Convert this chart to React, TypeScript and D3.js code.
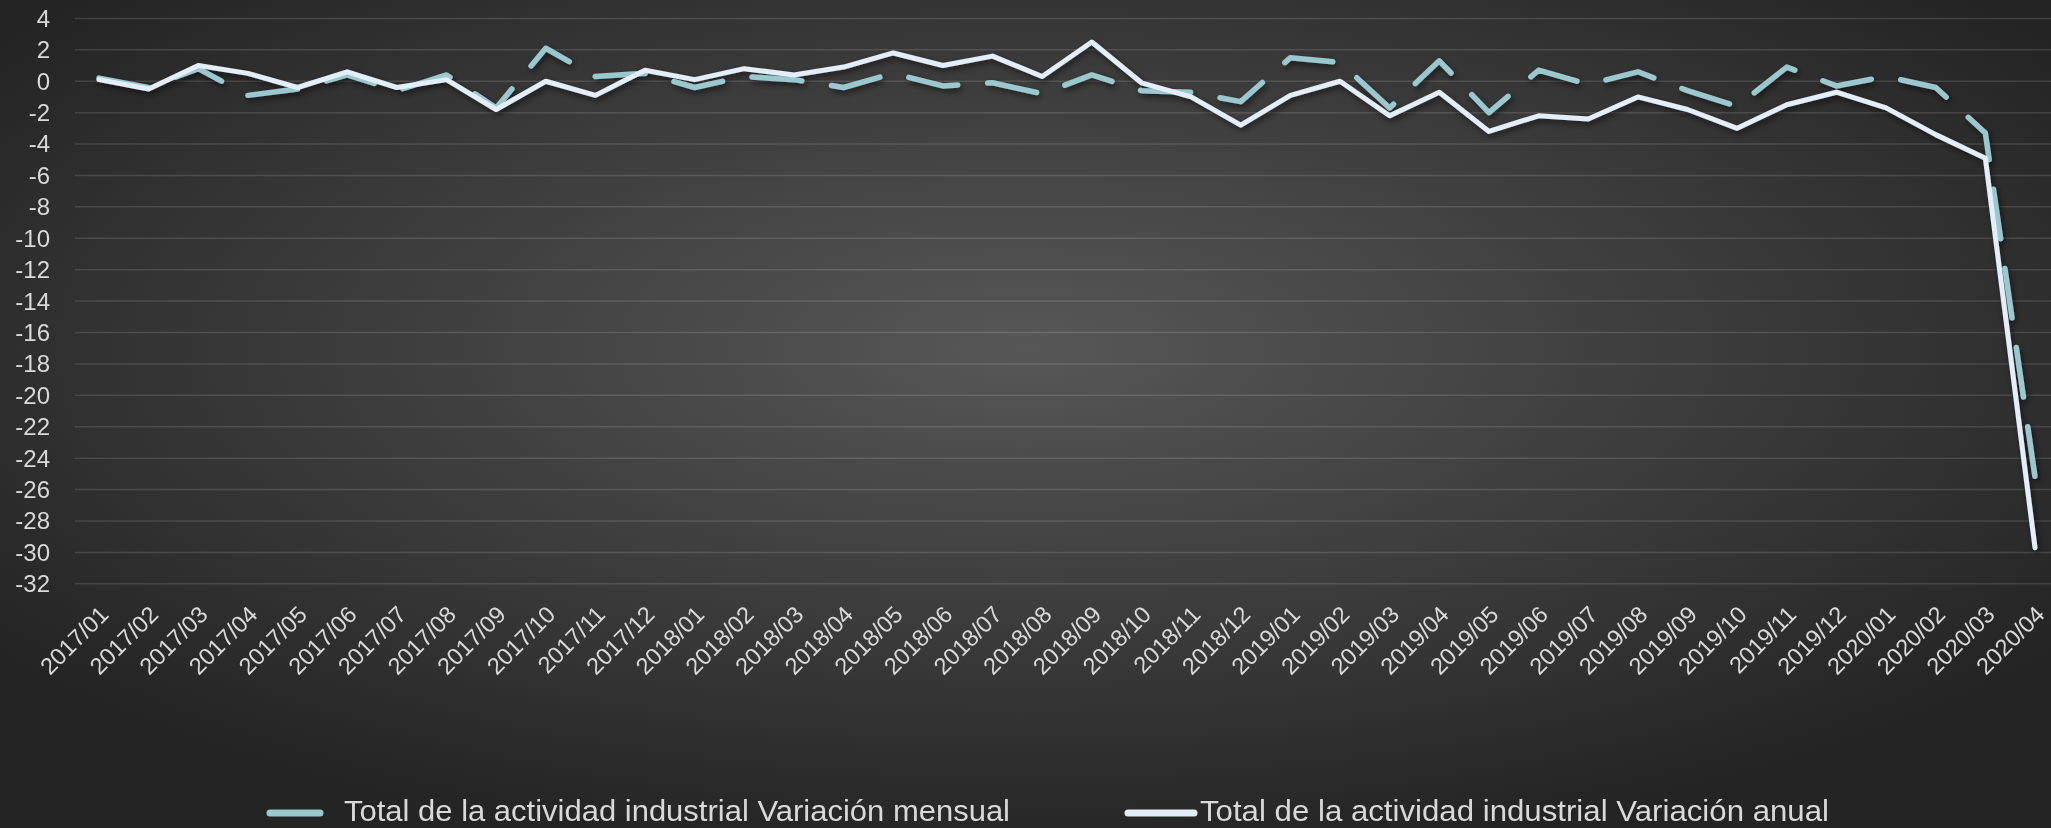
import React from 'react';
import * as d3 from 'd3';

const months = [
  '2017/01', '2017/02', '2017/03', '2017/04', '2017/05', '2017/06', '2017/07', '2017/08', '2017/09', '2017/10', '2017/11', '2017/12',
  '2018/01', '2018/02', '2018/03', '2018/04', '2018/05', '2018/06', '2018/07', '2018/08', '2018/09', '2018/10', '2018/11', '2018/12',
  '2019/01', '2019/02', '2019/03', '2019/04', '2019/05', '2019/06', '2019/07', '2019/08', '2019/09', '2019/10', '2019/11', '2019/12',
  '2020/01', '2020/02', '2020/03', '2020/04',
];

// Total de la actividad industrial  Variación mensual
const mensual = [
  0.2, -0.4, 0.8, -0.9, -0.5, 0.4, -0.6, 0.4, -1.7, 2.1, 0.3, 0.5,
  -0.4, 0.3, 0.1, -0.4, 0.5, -0.3, -0.1, -0.8, 0.4, -0.6, -0.7, -1.3,
  1.5, 1.2, -1.7, 1.3, -2.0, 0.7, -0.2, 0.6, -0.6, -1.6, 0.9, -0.3,
  0.3, -0.4, -3.3, -25.2,
];

// Total de la actividad industrial  Variación anual
const anual = [
  0.1, -0.5, 1.0, 0.5, -0.4, 0.6, -0.4, 0.1, -1.8, 0.0, -0.9, 0.7,
  0.1, 0.8, 0.4, 0.9, 1.8, 1.0, 1.6, 0.3, 2.5, -0.1, -1.0, -2.8,
  -0.9, 0.0, -2.2, -0.7, -3.2, -2.2, -2.4, -1.0, -1.8, -3.0, -1.5, -0.7,
  -1.7, -3.4, -4.9, -29.7,
];

const seriesNames = [
  'Total de la actividad industrial  Variación mensual',
  'Total de la actividad industrial  Variación anual',
];

const yTicks = d3.range(4, -33, -2);

const W = 2051;
const H = 828;
const plotLeft = 75;
const textColor = '#d9d9d9';
const font = '"Liberation Sans", Arial, sans-serif';

export default function App() {
  const x = d3.scalePoint<string>().domain(months).range([99, 2035]);
  const y = d3.scaleLinear().domain([-32, 4]).range([583.8, 18.4]);

  const line = d3
    .line<number>()
    .x((_, i) => x(months[i]) as number)
    .y((d) => y(d));

  return (
    <div style={{ position: 'fixed', left: 0, top: 0 }}>
      <svg width={W} height={H} style={{ display: 'block' }}>
        <defs>
          <radialGradient id="bg" cx="50%" cy="42%" r="62%">
            <stop offset="0%" stopColor="#575757" />
            <stop offset="100%" stopColor="#242424" />
          </radialGradient>
          <filter id="shadow" x="-5%" y="-5%" width="110%" height="120%">
            <feDropShadow dx="2" dy="3" stdDeviation="3" floodColor="#000" floodOpacity="0.55" />
          </filter>
        </defs>
        <rect x={0} y={0} width={W} height={H} fill="url(#bg)" />

        {/* gridlines */}
        <g>
          {yTicks.map((t) => (
            <line key={t} x1={plotLeft} x2={W} y1={y(t)} y2={y(t)} stroke="#ffffff" strokeOpacity={0.13} strokeWidth={1.5} />
          ))}
        </g>

        {/* y axis labels */}
        <g fontFamily={font} fontSize={24} fill={textColor} textAnchor="end">
          {yTicks.map((t) => (
            <text key={t} x={50} y={y(t)} dy="0.35em">
              {t}
            </text>
          ))}
        </g>

        {/* x axis labels */}
        <g fontFamily={font} fontSize={23.5} fill={textColor} textAnchor="end">
          {months.map((m) => (
            <text key={m} transform={`translate(${(x(m) as number) + 11},${616}) rotate(-45)`}>
              {m}
            </text>
          ))}
        </g>

        {/* series */}
        <g filter="url(#shadow)">
          <path
            d={line(mensual) || ''}
            fill="none"
            stroke="#9bc8cf"
            strokeWidth={5.5}
            strokeDasharray="50 30"
            strokeLinecap="round"
            strokeLinejoin="round"
          />
          <path d={line(anual) || ''} fill="none" stroke="#e3eef8" strokeWidth={5} strokeLinejoin="round" strokeLinecap="round" />
        </g>

        {/* legend */}
        <g fontFamily={font} fontSize={30} fill={textColor} style={{ whiteSpace: 'pre' }}>
          <line x1={270} x2={320} y1={813} y2={813} stroke="#9bc8cf" strokeWidth={7} strokeLinecap="round" />
          <text x={344} y={821} textLength={666} lengthAdjust="spacingAndGlyphs">
            {seriesNames[0]}
          </text>
          <line x1={1128} x2={1194} y1={813} y2={813} stroke="#e3eef8" strokeWidth={7} strokeLinecap="round" />
          <text x={1200} y={821} textLength={629} lengthAdjust="spacingAndGlyphs">
            {seriesNames[1]}
          </text>
        </g>
      </svg>
    </div>
  );
}
